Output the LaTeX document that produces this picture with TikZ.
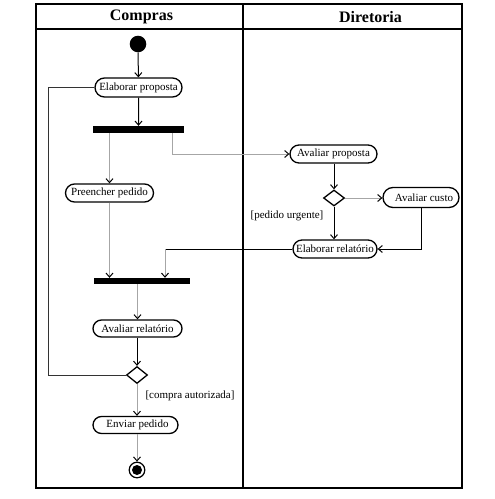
\documentclass[tikz,border=0pt]{standalone}
\usepackage{fontspec}
\setmainfont{Liberation Serif}
\usetikzlibrary{shapes.misc,shapes.geometric,arrows.meta}
\tikzset{
  act/.style={draw, rounded rectangle, line width=1.3pt, inner sep=0pt, minimum height=18pt, font=\fontsize{11}{12}\selectfont},
  dec/.style={draw, diamond, line width=1.3pt, inner sep=0pt, minimum width=21pt, minimum height=16pt},
  bar/.style={fill=black, draw=none, rectangle, inner sep=0pt},
  lbl/.style={font=\fontsize{11}{12}\selectfont, inner sep=0pt},
  hdr/.style={font=\fontsize{16}{18}\selectfont\bfseries, inner sep=0pt},
  blk/.style={line width=1pt, draw=black, -{Straight Barb[length=4pt,width=7pt,color=black]}},
  gry/.style={line width=1pt, draw=gray!70, -{Straight Barb[length=4pt,width=7pt,color=black]}},
  blkline/.style={line width=1pt, draw=black},
  loopline/.style={line width=1pt, draw=black!80},
}
\begin{document}
\begin{tikzpicture}[x=1pt,y=-1pt]
\useasboundingbox (0,0) rectangle (495,499);
% frame
\draw[line width=1.4pt] (36,4) rectangle (462,488);
\draw[line width=1.4pt] (36,29) -- (462,29);
\draw[line width=1.4pt] (243,4) -- (243,488);
\node[hdr] (h1) at (141.5,17) {Compras};
\node[hdr] (h2) at (370.5,17) {Diretoria};
% nodes
\node[circle, fill=black, inner sep=0pt, minimum size=16.6pt] (start) at (138,44) {};
\node[act, minimum width=87pt, minimum height=19pt] (ep) at (138.5,87.5) {Elaborar proposta};
\node[bar, minimum width=91pt, minimum height=7pt] (fork) at (138.5,129.5) {};
\node[act, minimum width=88pt] (pp) at (109.5,193) {Preencher pedido};
\node[act, minimum width=87pt] (ap) at (333.5,154) {Avaliar proposta};
\node[dec] (d1) at (334,198) {};
\node[act, minimum width=76pt, minimum height=20pt] (ac) at (421,197.5) {\hspace{6pt}Avaliar custo};
\node[act, minimum width=84pt] (er) at (335,249) {Elaborar relatório};
\node[bar, minimum width=96pt, minimum height=6pt] (join) at (142,281) {};
\node[act, minimum width=89pt, minimum height=17pt] (ar) at (137.5,328.5) {Avaliar relatório};
\node[dec, minimum height=17pt] (d2) at (137,375) {};
\node[act, minimum width=85pt, minimum height=17pt] (en) at (135.5,425) {\hspace{4pt}Enviar pedido};
\node[circle, draw, line width=1.2pt, inner sep=0pt, minimum size=15.6pt] (endn) at (137,470) {};
\fill (endn.center) circle (5pt);
% labels
\node[lbl] (l1) at (287,216) {[pedido urgente]};
\node[lbl] (l2) at (190,396) {[compra autorizada]};
% helper coordinates
\coordinate (forkR) at (172,133);
\coordinate (jc) at (165,249);
\coordinate (lp) at (48,375);
% connectors
\draw[blk] (start) -- (ep);
\draw[blk] (ep) -- (ep.south |- fork.north);
\draw[gry] (pp.north |- fork.south) -- (pp.north);
\draw[gry] (forkR) |- (ap.west);
\draw[blk] (ap.south -| d1.north) -- (d1.north);
\draw[gry] (d1.east) -- (ac.west |- d1.east);
\draw[blk] (d1.south) -- (d1.south |- er.north);
\draw[blk] (ac.south) |- (er.east);
\draw[blkline] (er.west) -- (jc);
\draw[gry] (jc) -- (jc |- join.north);
\draw[gry] (pp.south) -- (pp.south |- join.north);
\draw[gry] (ar.north |- join.south) -- (ar.north);
\draw[blk] (ar.south -| d2.north) -- (d2.north);
\draw[loopline] (d2.west) -- (lp) |- (ep.west);
\draw[gry] (d2.south) -- (d2.south |- en.north);
\draw[gry] (en.south -| endn.north) -- (endn.north);
\end{tikzpicture}
\end{document}
